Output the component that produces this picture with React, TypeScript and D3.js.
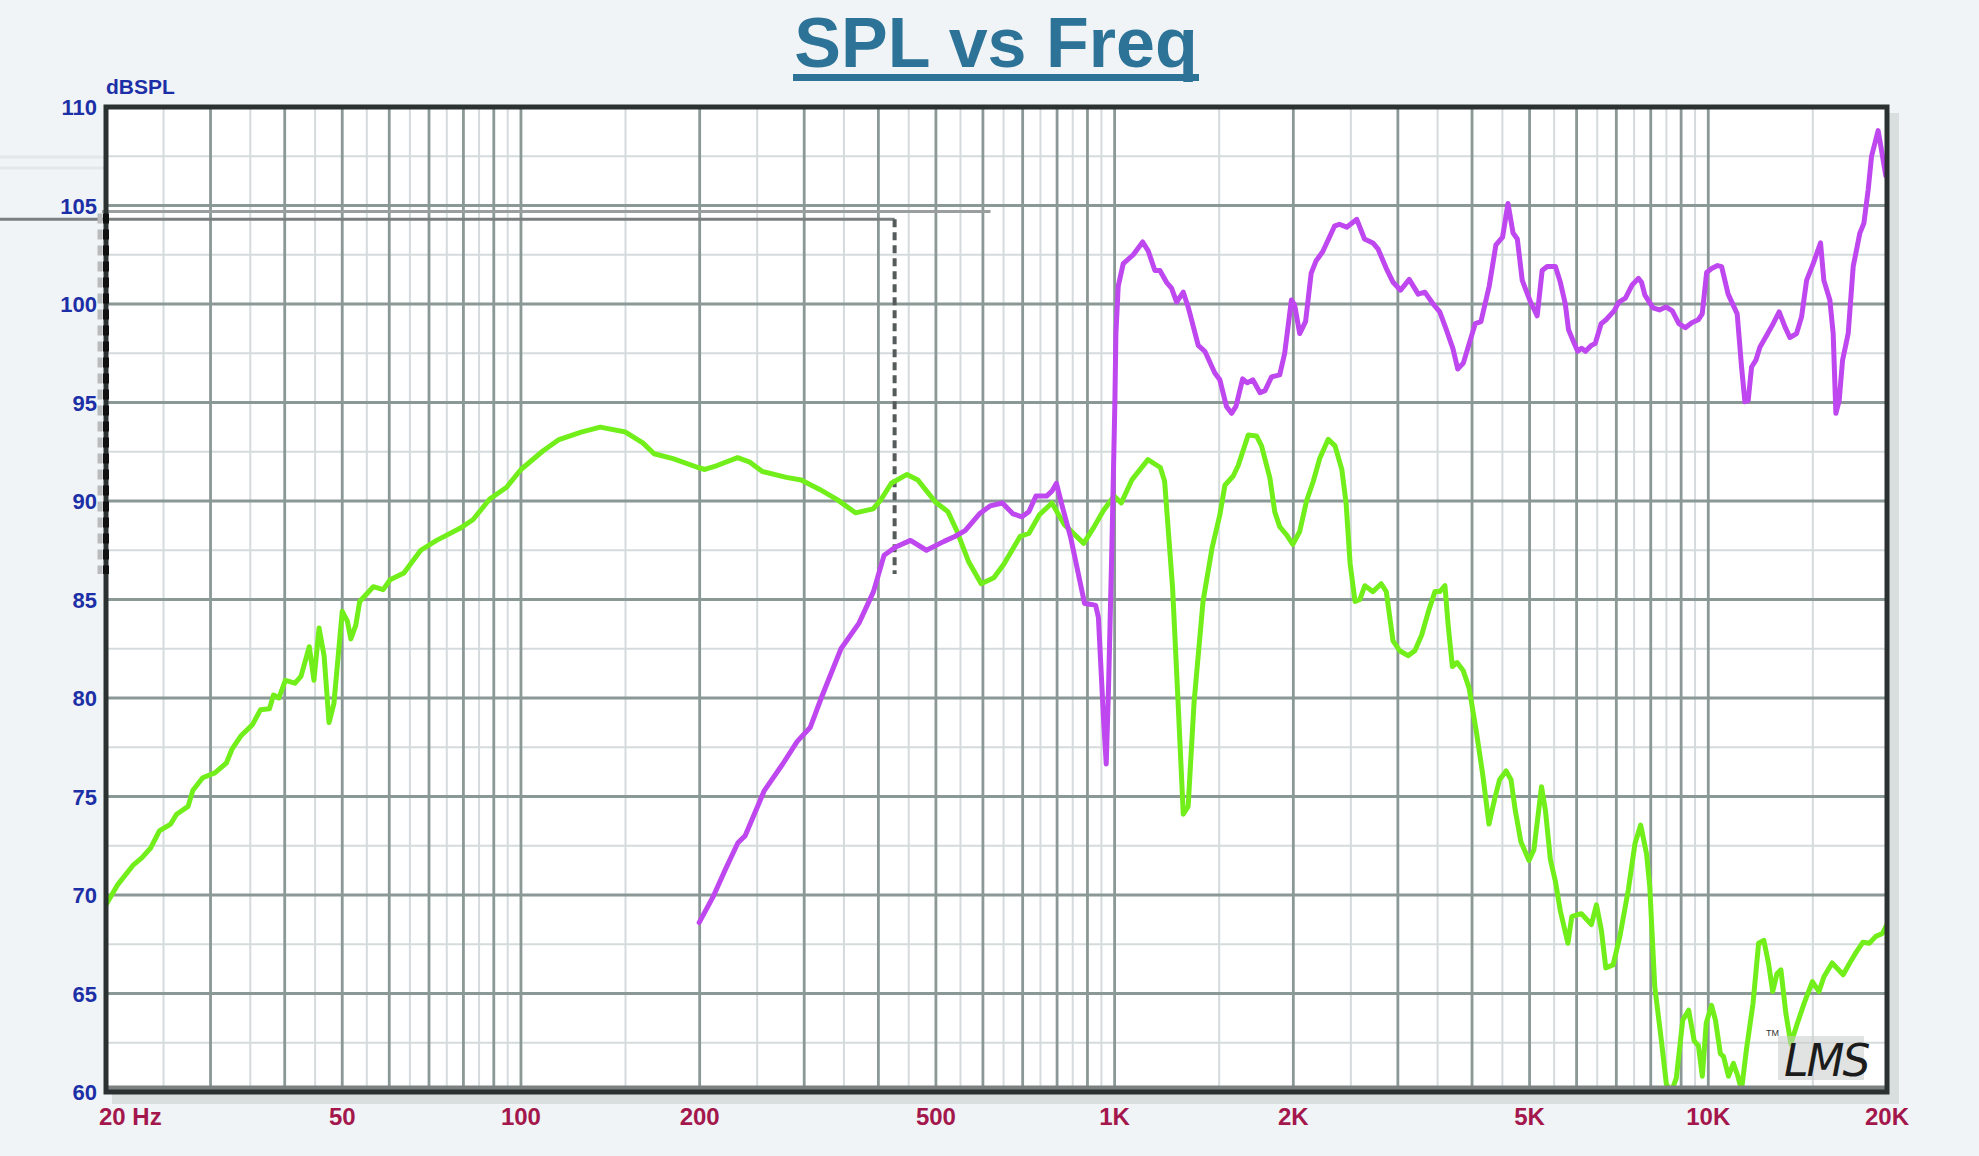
import React from 'react';
import * as d3 from 'd3';

// frequency (Hz), level (dB SPL)
const greenCurve: [number, number][] = [
  [20, 69.5], [20.9, 70.5], [22.2, 71.5], [23.0, 71.9], [23.8, 72.4], [24.6, 73.25], [25.7, 73.6],
  [26.3, 74.1], [27.5, 74.5], [28.0, 75.3], [29.1, 75.95], [30.5, 76.2], [31.9, 76.7], [32.6, 77.4],
  [33.8, 78.1], [35.3, 78.65], [36.4, 79.4], [37.7, 79.45], [38.3, 80.15], [39.1, 80.0], [40.1, 80.9],
  [41.6, 80.75], [42.6, 81.1], [44.0, 82.6], [44.8, 80.9], [45.7, 83.55], [46.6, 82.15], [47.5, 78.75],
  [48.4, 79.7], [50.0, 84.4], [51.0, 83.9], [51.7, 83.0], [52.7, 83.7], [53.5, 84.9], [56.4, 85.65],
  [58.6, 85.5], [60.2, 86.0], [63.5, 86.35], [67.8, 87.5], [72.1, 88.0], [78.8, 88.6], [83.0, 89.05],
  [88.6, 90.1], [94.6, 90.7], [100, 91.6], [109, 92.55], [115.6, 93.1], [126.3, 93.5], [136, 93.75],
  [150, 93.5], [160.4, 92.95], [167.6, 92.4], [180.4, 92.15], [198.7, 91.7], [204, 91.6], [214, 91.8],
  [231.7, 92.2], [243, 91.97], [255, 91.5], [280, 91.2], [296.5, 91.07], [318, 90.6], [341, 90.07],
  [366, 89.4], [392, 89.6], [404, 90.07], [420.6, 90.9], [447, 91.35], [466, 91.07], [499, 89.95],
  [524, 89.45], [542, 88.5], [568, 86.9], [596, 85.8], [626, 86.1], [651, 86.8], [693, 88.2],
  [717, 88.35], [747, 89.3], [784, 89.9], [823, 88.8], [887, 87.85], [924, 88.7], [957, 89.5],
  [998, 90.25], [1026, 89.9], [1069, 91.07], [1138, 92.1], [1194, 91.7], [1214, 91.0], [1252, 85.6],
  [1279, 79.8], [1305, 74.1], [1330, 74.5], [1361, 79.8], [1409, 84.9], [1459, 87.6], [1504, 89.3],
  [1534, 90.8], [1584, 91.27], [1615, 91.8], [1679, 93.35], [1734, 93.3], [1768, 92.8], [1826, 91.17],
  [1861, 89.45], [1897, 88.7], [1946, 88.3], [1996, 87.8], [2050, 88.45], [2105, 90.0], [2161, 91.0],
  [2216, 92.17], [2290, 93.13], [2351, 92.8], [2414, 91.6], [2454, 89.9], [2493, 86.8], [2541, 84.9],
  [2589, 85.0], [2639, 85.7], [2723, 85.4], [2812, 85.8], [2868, 85.4], [2944, 82.9], [3021, 82.4],
  [3121, 82.15], [3204, 82.4], [3290, 83.2], [3378, 84.4], [3464, 85.4], [3530, 85.4], [3601, 85.7],
  [3646, 83.7], [3706, 81.6], [3775, 81.8], [3864, 81.4], [3955, 80.5], [4067, 78.3], [4170, 76.1],
  [4271, 73.6], [4365, 74.85], [4450, 75.85], [4565, 76.3], [4653, 75.85], [4730, 74.3], [4834, 72.7],
  [4989, 71.75], [5085, 72.3], [5237, 75.5], [5317, 74.3], [5420, 71.8], [5526, 70.7], [5633, 69.2],
  [5801, 67.55], [5890, 68.9], [6026, 69.0], [6114, 69.05], [6354, 68.5], [6480, 69.5], [6607, 68.2],
  [6720, 66.3], [6913, 66.45], [7097, 67.9], [7332, 70.25], [7524, 72.6], [7693, 73.55], [7870, 72.1],
  [7970, 70.4], [8125, 65.35], [8337, 62.6], [8499, 60.4], [8664, 60.0], [8833, 60.7], [9057, 63.65],
  [9267, 64.15], [9467, 62.6], [9624, 62.35], [9771, 60.8], [9921, 63.5], [10127, 64.4], [10282, 63.65],
  [10480, 61.95], [10611, 61.8], [10814, 60.8], [11023, 61.45], [11203, 60.85], [11376, 60.1],
  [11594, 62.15], [11895, 64.5], [12155, 67.55], [12403, 67.7], [12628, 66.55], [12837, 65.1],
  [13050, 66.0], [13253, 66.2], [13510, 64.0], [13774, 62.45], [14132, 63.5], [14500, 64.5],
  [14974, 65.6], [15363, 65.1], [15660, 65.85], [16167, 66.55], [16873, 65.95], [17307, 66.55],
  [17752, 67.1], [18208, 67.6], [18676, 67.55], [19151, 67.9], [19642, 68.05], [20000, 68.5],
];

const purpleCurve: [number, number][] = [
  [199.6, 68.6], [211, 69.95], [221, 71.3], [232, 72.65], [238.5, 73.0], [257, 75.3], [276, 76.65],
  [292, 77.8], [307, 78.5], [320.5, 80.0], [346, 82.5], [371, 83.8], [392.5, 85.4], [409, 87.25],
  [427, 87.65], [453, 88.0], [482, 87.5], [516, 87.95], [538, 88.2], [560, 88.5], [592, 89.35],
  [617, 89.75], [647, 89.9], [674, 89.35], [698, 89.2], [717, 89.45], [737, 90.25], [768, 90.25],
  [784, 90.5], [798, 90.9], [815, 89.8], [844, 88.1], [866, 86.5], [890, 84.8], [914, 84.75],
  [929, 84.7], [939, 84.1], [958, 78.9], [968, 76.65], [977, 80.7], [990, 88], [1001, 95],
  [1005, 98.5], [1014, 100.9], [1034, 102.05], [1075, 102.5], [1115, 103.15], [1139, 102.7],
  [1169, 101.7], [1192, 101.7], [1223, 101.1], [1247, 100.8], [1272, 100.1], [1305, 100.6],
  [1330, 99.85], [1383, 97.9], [1419, 97.6], [1475, 96.5], [1504, 96.15], [1543, 94.8], [1574, 94.45],
  [1601, 94.8], [1643, 96.2], [1673, 96.0], [1709, 96.15], [1758, 95.5], [1792, 95.6], [1838, 96.3],
  [1897, 96.4], [1934, 97.5], [1985, 100.2], [2010, 99.95], [2050, 98.5], [2097, 99.1], [2143, 101.55],
  [2185, 102.2], [2241, 102.65], [2346, 103.95], [2391, 104.05], [2460, 103.9], [2558, 104.3],
  [2636, 103.3], [2723, 103.1], [2777, 102.8], [2869, 101.8], [2945, 101.1], [3031, 100.7],
  [3135, 101.25], [3246, 100.5], [3331, 100.6], [3440, 100.0], [3529, 99.6], [3620, 98.7],
  [3713, 97.75], [3784, 96.7], [3867, 97.0], [3957, 98.0], [4050, 99.0], [4140, 99.1], [4275, 100.9],
  [4388, 103.0], [4503, 103.4], [4598, 105.1], [4690, 103.6], [4768, 103.3], [4860, 101.2],
  [5019, 100.1], [5150, 99.4], [5250, 101.7], [5352, 101.9], [5527, 101.9], [5634, 101.1],
  [5743, 100.0], [5815, 98.7], [5927, 98.1], [6025, 97.6], [6117, 97.75], [6211, 97.6], [6354, 97.9],
  [6451, 98.0], [6599, 99.0], [6726, 99.2], [6940, 99.65], [7071, 100.1], [7251, 100.3],
  [7436, 100.95], [7625, 101.3], [7720, 101.1], [7820, 100.45], [8070, 99.8], [8273, 99.7],
  [8483, 99.85], [8699, 99.65], [8920, 99.0], [9147, 98.8], [9380, 99.05], [9619, 99.2], [9768, 99.5],
  [9936, 101.6], [10130, 101.8], [10367, 101.95], [10530, 101.9], [10800, 100.5], [11186, 99.5],
  [11378, 96.8], [11525, 95.04], [11673, 95.1], [11828, 96.8], [12028, 97.15], [12215, 97.8],
  [12537, 98.4], [12862, 99.0], [13164, 99.6], [13459, 98.85], [13722, 98.3], [14083, 98.5],
  [14359, 99.35], [14642, 101.2], [15021, 102.05], [15456, 103.1], [15655, 101.2], [16024, 100.2],
  [16232, 98.5], [16402, 94.45], [16614, 95.1], [16834, 97.15], [17205, 98.5], [17542, 101.9],
  [18002, 103.6], [18285, 104.1], [18592, 105.8], [18836, 107.5], [19325, 108.8], [19580, 107.8],
  [19908, 106.5],
];

const yTicks = [60, 65, 70, 75, 80, 85, 90, 95, 100, 105, 110];
const yMinorTicks = [62.5, 67.5, 72.5, 77.5, 82.5, 87.5, 92.5, 97.5, 102.5, 107.5];
const xMajorTicks = [
  20, 30, 40, 50, 60, 70, 80, 90, 100, 200, 300, 400, 500, 600, 700, 800, 900,
  1000, 2000, 3000, 4000, 5000, 6000, 7000, 8000, 9000, 10000, 20000,
];
const xMinorTicks = [
  25, 35, 45, 55, 65, 75, 85, 95, 150, 250, 350, 450, 550, 650, 750, 850, 950,
  1500, 2500, 3500, 4500, 5500, 6500, 7500, 8500, 9500, 15000,
];
const xLabels: [number, string][] = [
  [50, '50'], [100, '100'], [200, '200'], [500, '500'], [1000, '1K'],
  [2000, '2K'], [5000, '5K'], [10000, '10K'], [20000, '20K'],
];

const W = 1979;
const H = 1156;
const plot = { left: 106, right: 1887, top: 107, bottom: 1092 };

const x = d3.scaleLog().domain([20, 20000]).range([plot.left, plot.right]);
const y = d3.scaleLinear().domain([60, 110]).range([plot.bottom, plot.top]);

const line = d3.line<[number, number]>()
  .x(d => x(d[0]))
  .y(d => y(d[1]));

const App: React.FC = () => {
  const majorGrid = '#8a9896';
  const minorGrid = '#d5dbdc';
  const blue = '#1c2fa6';
  const crimson = '#a3174c';

  return (
    <svg width={W} height={H} style={{ position: 'absolute', left: 0, top: 0 }}
      fontFamily="'Liberation Sans', Arial, sans-serif">
      <defs>
        <clipPath id="plotClip">
          <rect x={plot.left} y={plot.top - 4} width={plot.right - plot.left} height={plot.bottom - plot.top + 4} />
        </clipPath>
      </defs>

      <rect x={0} y={0} width={W} height={H} fill="#f0f4f6" />

      {/* faint leftover lines near the title and top-left corner */}
      <g stroke="#e2e7ea" strokeWidth={3}>
        <line x1={0} x2={210} y1={157} y2={157} />
        <line x1={0} x2={210} y1={168} y2={168} />
        <line x1={792} x2={992} y1={148} y2={148} />
        <line x1={792} x2={992} y1={160} y2={160} />
      </g>

      {/* title */}
      <text x={996} y={67} textAnchor="middle" fontSize={70} fontWeight="bold" fill="#2d7397">SPL vs Freq</text>
      <rect x={793} y={74} width={406} height={7} fill="#2d7397" />

      {/* plot background and shadow */}
      <rect x={plot.left + 6} y={plot.top + 6} width={plot.right - plot.left + 6} height={plot.bottom - plot.top + 6} fill="#d9dedf" />
      <rect x={plot.left} y={plot.top} width={plot.right - plot.left} height={plot.bottom - plot.top} fill="#ffffff" />

      {/* grid */}
      <g>
        {xMinorTicks.map(t => (
          <line key={'xm' + t} x1={x(t)} x2={x(t)} y1={plot.top} y2={plot.bottom} stroke={minorGrid} strokeWidth={2} />
        ))}
        {yMinorTicks.map(t => (
          <line key={'ym' + t} x1={plot.left} x2={plot.right} y1={y(t)} y2={y(t)} stroke={minorGrid} strokeWidth={2} />
        ))}
        {xMajorTicks.map(t => (
          <line key={'xM' + t} x1={x(t)} x2={x(t)} y1={plot.top} y2={plot.bottom} stroke={majorGrid} strokeWidth={2.8} />
        ))}
        {yTicks.map(t => (
          <line key={'yM' + t} x1={plot.left} x2={plot.right} y1={y(t)} y2={y(t)} stroke={majorGrid} strokeWidth={2.8} />
        ))}
      </g>

      {/* marker lines */}
      <line x1={plot.left - 4} x2={x(618)} y1={y(104.7)} y2={y(104.7)} stroke="#9a9e9e" strokeWidth={3} />
      <line x1={0} x2={x(426)} y1={y(104.3)} y2={y(104.3)} stroke="#7b7f7f" strokeWidth={3} />
      <line x1={x(426)} x2={x(426)} y1={y(104.3)} y2={y(86.3)} stroke="#555a5a" strokeWidth={4} strokeDasharray="8 5" />

      {/* curves */}
      <g clipPath="url(#plotClip)" fill="none" strokeWidth={5} strokeLinejoin="round" strokeLinecap="round">
        <path d={line(greenCurve) ?? ''} stroke="#72ef1a" />
        <path d={line(purpleCurve) ?? ''} stroke="#be47ef" />
      </g>

      {/* frame */}
      <line x1={plot.left} x2={plot.right} y1={plot.bottom - 4} y2={plot.bottom - 4} stroke="#7d8080" strokeWidth={5} />
      <rect x={plot.left} y={plot.top} width={plot.right - plot.left} height={plot.bottom - plot.top}
        fill="none" stroke="#2b3030" strokeWidth={5} />
      <line x1={plot.left} x2={plot.left} y1={y(104.6)} y2={y(86.3)} stroke="#111" strokeWidth={6} strokeDasharray="10 6" />
      <line x1={plot.left - 6} x2={plot.left - 6} y1={y(104.6)} y2={y(86.3)} stroke="#b9bcbc" strokeWidth={5} strokeDasharray="10 6" />

      {/* LMS logo */}
      <g>
        <rect x={1778} y={1036} width={86} height={44} fill="#c9cccc" opacity={0.55} />
        <text x={1766} y={1036} fontSize={9} fill="#333">TM</text>
        <text x={1784} y={1076} fontSize={44} fontStyle="italic" fill="#1c1c1c"
          fontFamily="'DejaVu Sans', sans-serif" letterSpacing={-2}>LMS</text>
      </g>

      {/* y axis */}
      <text x={106} y={94} fontSize={21} fontWeight="bold" fill={blue}>dBSPL</text>
      {yTicks.map(t => (
        <text key={'yl' + t} x={97} y={y(t) + 8} textAnchor="end" fontSize={22} fontWeight="bold" fill={blue}>{t}</text>
      ))}

      {/* x axis */}
      <g fontFamily="'Liberation Sans Narrow', 'Arial Narrow', 'Liberation Sans', sans-serif" fontWeight="bold" fontSize={24} fill={crimson}>
        <text x={99} y={1125}>20  Hz</text>
        {xLabels.map(([f, s]) => (
          <text key={'xl' + f} x={x(f)} y={1125} textAnchor="middle">{s}</text>
        ))}
      </g>
    </svg>
  );
};

export default App;
